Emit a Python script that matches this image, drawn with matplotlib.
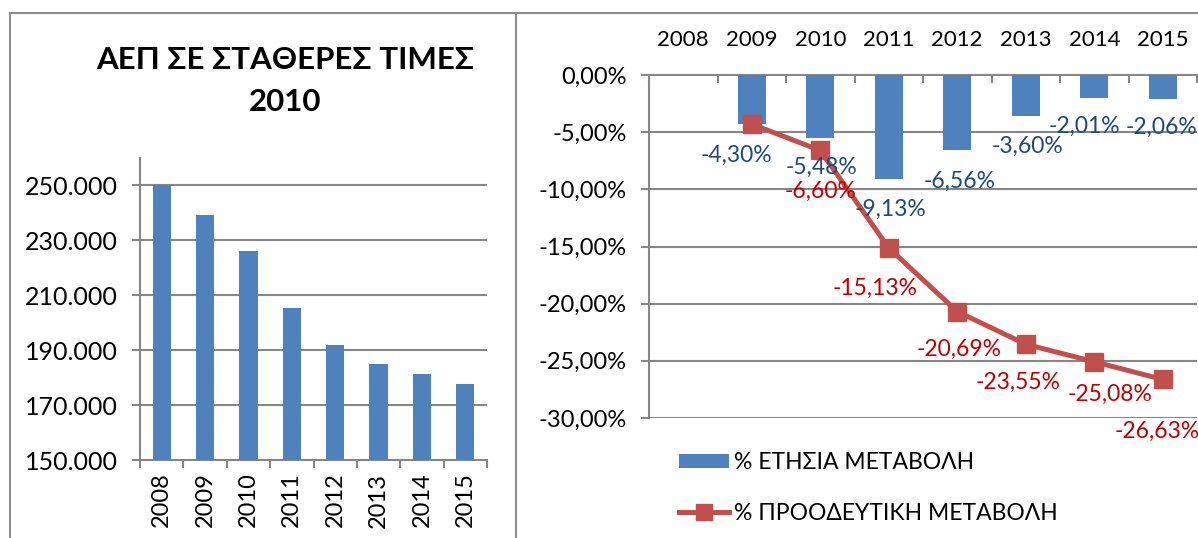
import matplotlib
matplotlib.use('Agg')
import matplotlib.pyplot as plt
from matplotlib.lines import Line2D
from matplotlib.patches import Patch
import numpy as np

# ---------------- data ----------------
years = ['2008', '2009', '2010', '2011', '2012', '2013', '2014', '2015']
gdp = [250000, 239300, 226200, 205500, 192000, 185100, 181400, 177700]
annual_change = [np.nan, -4.30, -5.48, -9.13, -6.56, -3.60, -2.01, -2.06]
cumulative_change = [np.nan, -4.30, -6.60, -15.13, -20.69, -23.55, -25.08, -26.63]
left_title = 'ΑΕΠ ΣΕ ΣΤΑΘΕΡΕΣ ΤΙΜΕΣ\n2010'
legend_labels = ['% ΕΤΗΣΙΑ ΜΕΤΑΒΟΛΗ', '% ΠΡΟΟΔΕΥΤΙΚΗ ΜΕΤΑΒΟΛΗ']
gdp_ticks = [150000, 170000, 190000, 210000, 230000, 250000]
pct_ticks = [0, -5, -10, -15, -20, -25, -30]

# label offsets in pixels (dx right, dy down)
annual_offsets = [None, (-15, 31), (1, 30), (2, 30), (2, 31), (2, 30), (-10, 28), (-1, 29)]
cum_offsets = [None, None, (0, 41), (-14, 40), (2, 38), (-8, 38), (16, 33), (-6, 52)]

# ---------------- style ----------------
plt.rcParams['font.family'] = ['Lato', 'Noto Sans', 'DejaVu Sans']
BLUE = '#4F81BD'
RED = '#C0504D'
GRID = '#868686'
BLUE_TXT = '#1F497D'
RED_TXT = '#C00000'

W, H = 1198, 538
fig = plt.figure(figsize=(W / 100, H / 100), dpi=100)

def fx(px):
    return px / W

def fy(py):
    return 1 - py / H

# ---------------- left chart ----------------
axL = fig.add_axes([fx(140), fy(460), fx(487) - fx(140), fy(158) - fy(460)])
x = np.arange(len(years))
axL.bar(x, gdp, width=0.42, color=BLUE, zorder=3)
axL.set_xlim(-0.5, len(years) - 0.5)
axL.set_ylim(150000, 260000)
axL.set_yticks(gdp_ticks)
axL.set_yticklabels([f'{v/1000:.3f}' for v in gdp_ticks], fontsize=18)
axL.set_xticks(x)
axL.set_xticklabels(years, rotation=90, fontsize=17)
axL.set_xticks(np.arange(len(years) + 1) - 0.5, minor=True)
axL.tick_params(axis='x', which='major', length=0, pad=9)
axL.tick_params(axis='x', which='minor', length=6, width=1.5, color=GRID, direction='out')
axL.tick_params(axis='y', length=6, width=1.5, color=GRID, direction='out', pad=10)
for t in gdp_ticks[1:]:
    axL.axhline(t, color=GRID, lw=1.5, zorder=1)
for s in ['top', 'right']:
    axL.spines[s].set_visible(False)
for s in ['left', 'bottom']:
    axL.spines[s].set_color(GRID)
    axL.spines[s].set_linewidth(1.5)
fig.text(fx(285), fy(81), left_title, ha='center', va='center', fontsize=22.5,
         fontweight='bold', linespacing=1.65)

# ---------------- right chart ----------------
axR = fig.add_axes([fx(649), fy(418), fx(1197) - fx(649), fy(75) - fy(418)])
axR.bar(x, annual_change, width=0.41, color=BLUE, zorder=3)
axR.plot(x, cumulative_change, color=RED, lw=3.6, marker='s', markersize=13.5,
         markerfacecolor=RED, markeredgecolor=RED, zorder=4)
axR.set_xlim(-0.5, len(years) - 0.5)
axR.set_ylim(-30, 0)
axR.set_yticks(pct_ticks)
axR.set_yticklabels([f'{v:.2f}%'.replace('.', ',') for v in pct_ticks], fontsize=17)
axR.xaxis.tick_top()
axR.set_xticks(x)
axR.set_xticklabels(years, fontsize=16)
axR.set_xticks(np.arange(len(years) + 1) - 0.5, minor=True)
axR.tick_params(axis='x', which='major', length=0, pad=18, top=True, bottom=False)
axR.tick_params(axis='x', which='minor', length=6, width=1.5, color=GRID,
                direction='in', top=True, bottom=False)
axR.tick_params(axis='y', length=6, width=1.5, color=GRID, direction='out', pad=10)
for t in pct_ticks[1:]:
    axR.axhline(t, color=GRID, lw=1.5, zorder=1)
for s in ['bottom', 'right']:
    axR.spines[s].set_visible(False)
for s in ['left', 'top']:
    axR.spines[s].set_color(GRID)
    axR.spines[s].set_linewidth(1.5)

for i, v in enumerate(annual_change):
    off = annual_offsets[i]
    if off is None or np.isnan(v):
        continue
    axR.annotate(f'{v:.2f}%'.replace('.', ','), (x[i], v), xytext=(off[0], -off[1]),
                 textcoords='offset pixels', ha='center', va='center',
                 fontsize=16.5, color=BLUE_TXT, zorder=5, annotation_clip=False)
for i, v in enumerate(cumulative_change):
    off = cum_offsets[i]
    if off is None or np.isnan(v):
        continue
    axR.annotate(f'{v:.2f}%'.replace('.', ','), (x[i], v), xytext=(off[0], -off[1]),
                 textcoords='offset pixels', ha='center', va='center',
                 fontsize=16.5, color=RED_TXT, zorder=5, annotation_clip=False)

handles = [Patch(facecolor=BLUE, edgecolor='none'),
           Line2D([], [], color=RED, lw=3.6, marker='s', markersize=11,
                  markerfacecolor=RED, markeredgecolor=RED)]
fig.legend(handles, legend_labels, loc='upper left',
           bbox_to_anchor=(fx(679), fy(452)), frameon=False, fontsize=16.5,
           handlelength=2.2, handleheight=0.52, handletextpad=0.22,
           labelspacing=1.3, borderpad=0, borderaxespad=0)

# ---------------- borders ----------------
border_kw = dict(color='#8C8C8C', lw=1.5, transform=fig.transFigure)
fig.add_artist(Line2D([fx(10), fx(10)], [fy(13), 0], **border_kw))
fig.add_artist(Line2D([fx(10), 1], [fy(13), fy(13)], **border_kw))
fig.add_artist(Line2D([fx(516), fx(516)], [fy(13), 0], **border_kw))

fig.savefig('out.png', dpi=100)
